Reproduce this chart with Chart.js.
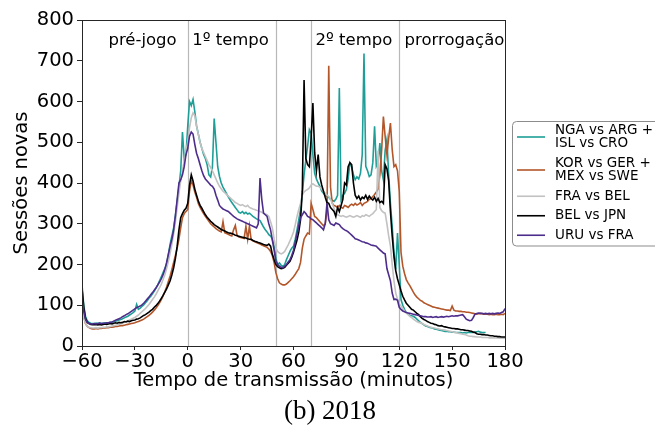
<!DOCTYPE html>
<html><head><meta charset="utf-8">
<script src="https://cdn.jsdelivr.net/npm/chart.js@4.4.1/dist/chart.umd.min.js"></script>
<style>html,body{margin:0;padding:0;background:#fff;}canvas{display:block;}</style>
</head><body>
<canvas id="c" width="655" height="430" style="width:655px;height:430px"></canvas>
<script>
// minutes of broadcast, -60 .. 180 (one sample per minute)
const minutes = Array.from({length: 241}, (_, i) => i - 60);

const seriesLabels = [["NGA vs ARG +", "ISL vs CRO"], ["KOR vs GER +", "MEX vs SWE"], ["FRA vs BEL"], ["BEL vs JPN"], ["URU vs FRA"]];
const seriesColors = ["#1f9e97", "#b3572b", "#c2c2c2", "#000000", "#4d2d8c"];

const ngaIsl = [
150,100,72,62,58,56,55,55,56,55,
56,55,56,57,56,57,58,58,60,61,
62,64,65,67,69,71,73,76,79,82,
86,102,90,93,97,101,106,111,117,122,
128,135,142,150,160,170,180,190,200,225,
250,270,290,320,355,390,430,525,460,470,
540,600,590,605,575,540,520,500,485,470,
460,445,420,415,440,558,500,440,416,400,
390,382,374,366,359,352,346,340,334,328,
326,330,325,328,324,326,322,318,315,312,
310,308,300,292,285,280,273,270,262,245,
215,200,204,198,195,200,212,222,232,240,
245,262,285,310,335,375,420,457,490,531,
522,470,424,410,400,392,380,375,370,367,
365,360,358,355,360,370,633,359,370,375,
384,410,449,440,420,408,415,410,424,470,
718,441,430,416,420,450,539,441,450,498,
430,408,480,506,420,350,294,230,188,277,
200,114,100,90,82,78,75,74,73,70,
66,62,58,55,52,49,48,46,45,44,
42,41,40,39,38,37,36,36,35,35,
34,34,33,33,33,33,32,33,32,33,
34,33,33,34,35,36,34,33,33,33,
null,null,null,null,null,null,null,null,null,null,null];

const korMex = [
105,72,55,48,45,43,42,42,43,42,
43,43,44,44,45,45,46,46,47,48,
48,49,50,50,51,52,53,54,55,56,
57,59,60,62,64,66,69,72,75,79,
83,88,93,99,106,114,123,133,145,158,
172,188,205,222,240,262,290,315,325,330,
335,380,405,395,378,365,350,340,332,325,
318,312,306,300,296,292,288,285,282,280,
305,278,276,274,272,270,285,296,270,268,
266,265,264,294,262,294,260,258,256,254,
252,250,248,246,244,242,238,232,222,205,
180,165,155,152,150,150,152,156,160,165,
170,176,183,190,205,240,262,270,277,275,
350,335,318,315,310,305,300,295,300,330,
688,390,350,345,343,340,345,340,338,345,
343,340,345,348,345,350,346,348,352,345,
350,352,355,360,362,367,372,378,385,420,
480,563,514,470,510,547,482,440,445,430,
380,230,196,178,163,155,148,140,132,125,
120,116,112,110,106,104,102,100,98,96,
95,94,93,92,91,90,89,88,88,87,
98,88,86,86,85,85,84,84,83,83,
82,81,80,79,78,79,80,79,78,78,
78,77,78,77,77,78,77,77,78,77,80];

const fraBel = [
100,70,55,48,46,45,44,44,45,44,
45,45,46,46,47,47,48,49,50,51,
52,53,55,56,58,60,62,64,66,68,
70,73,76,80,84,88,92,97,102,108,
114,120,127,135,143,152,163,175,190,208,
228,250,275,305,340,375,405,430,455,478,
500,535,560,572,565,540,520,500,485,475,
465,455,445,438,430,420,410,400,392,386,
380,376,372,368,364,360,356,352,350,347,
345,347,344,342,345,340,338,336,335,333,
332,330,328,326,324,322,318,305,290,262,
240,232,228,226,228,232,240,248,258,268,
280,298,318,335,350,370,378,382,384,388,
395,398,395,392,392,390,385,380,375,370,
367,360,350,338,326,322,320,318,320,318,
316,318,320,318,316,318,320,318,316,320,
318,322,320,318,322,325,330,335,480,340,
332,328,326,300,270,245,200,160,130,115,
104,98,92,86,81,77,73,70,66,63,
60,58,57,55,53,51,49,47,46,45,
44,43,42,41,40,40,39,38,37,36,
35,34,33,32,31,30,29,28,27,25,
24,24,23,23,22,22,22,21,21,21,
21,20,20,20,20,20,20,19,19,19,19];

const belJpn = [
142,95,68,58,55,53,52,52,53,52,
53,52,53,54,53,54,55,54,56,57,
56,58,57,58,60,59,61,60,62,63,
64,66,67,69,72,75,77,80,83,87,
90,95,99,104,110,117,124,132,140,150,
160,175,192,215,245,285,315,325,333,338,
350,395,420,405,385,370,356,345,338,330,
322,316,311,306,302,298,295,292,289,286,
284,282,280,278,277,276,274,272,271,269,
268,267,266,265,263,262,262,259,257,256,
254,253,251,249,248,247,250,245,225,212,
200,195,192,190,191,193,198,203,208,218,
230,245,260,280,310,380,653,460,445,440,
510,596,475,430,470,415,395,380,365,352,
350,340,335,330,318,340,330,345,360,400,
395,440,450,445,400,370,362,368,358,365,
362,370,360,368,362,358,365,355,362,352,
355,350,445,435,405,330,270,220,185,165,
150,135,122,113,105,100,95,90,88,84,
80,77,72,68,65,63,60,58,56,55,
53,52,50,49,50,48,47,46,45,44,
43,43,42,42,41,40,40,39,38,38,
37,36,34,33,30,29,29,28,28,27,
27,26,25,25,24,24,23,23,22,22,22];

const uruFra = [
120,85,65,58,55,54,54,55,54,55,
56,55,56,56,57,57,58,59,61,63,
65,67,69,72,74,77,79,82,85,88,
91,94,96,98,101,105,110,115,120,126,
131,137,143,150,157,165,175,188,205,225,
245,262,285,320,360,400,408,420,440,470,
485,515,525,520,495,473,460,445,430,418,
410,405,400,395,392,385,370,358,345,340,
336,334,332,330,326,322,318,315,312,310,
308,306,304,302,300,298,296,294,292,290,
300,412,360,326,322,318,300,285,260,235,
208,200,196,193,192,196,200,206,212,222,
235,255,275,295,315,322,330,325,318,316,
312,310,306,302,298,294,290,285,300,351,
310,300,298,296,302,300,298,292,288,285,
283,280,276,272,268,263,262,260,258,256,
255,253,252,250,248,247,246,245,240,236,
232,228,226,190,175,160,130,114,115,112,
95,90,86,84,82,81,80,79,78,77,
76,75,74,73,72,72,71,71,72,70,
71,72,70,71,72,71,72,73,72,73,
74,73,74,74,75,76,77,72,66,64,
62,63,70,78,80,81,80,80,79,80,
79,80,79,80,79,80,81,80,82,84,92];

const seriesValues = [ngaIsl, korMex, fraBel, belJpn, uruFra];

const xTicks = [-60, -30, 0, 30, 60, 90, 120, 150, 180];
const yTicks = [0, 100, 200, 300, 400, 500, 600, 700, 800];
const phaseLines = [0, 50, 70, 120];
const phaseLabels = ["pré-jogo", "1º tempo", "2º tempo", "prorrogação"];
const phaseLabelX = [-45, 2.5, 72.5, 123];
const phaseLabelY = 750;
const xTitle = "Tempo de transmissão (minutos)";
const yTitle = "Sessões novas";
const caption = "(b) 2018";

const FONT = '"DejaVu Sans", sans-serif';

const deco = {
  id: 'deco',
  beforeDatasetsDraw(chart) {
    const {ctx, chartArea: a, scales: {x}} = chart;
    ctx.save();
    ctx.strokeStyle = '#b8b8b8';
    ctx.lineWidth = 1.2;
    phaseLines.forEach(m => {
      const px = Math.round(x.getPixelForValue(m)) + 0.5;
      ctx.beginPath(); ctx.moveTo(px, a.top); ctx.lineTo(px, a.bottom); ctx.stroke();
    });
    ctx.restore();
  },
  afterDatasetsDraw(chart) {
    const {ctx, chartArea: a, scales: {x, y}} = chart;
    ctx.save();
    ctx.strokeStyle = '#262626';
    ctx.lineWidth = 1;
    ctx.strokeRect(Math.round(a.left) + 0.5, Math.round(a.top) + 0.5, Math.round(a.right - a.left), Math.round(a.bottom - a.top));
    ctx.fillStyle = '#000';
    ctx.font = '16.5px ' + FONT;
    ctx.textAlign = 'left';
    ctx.textBaseline = 'middle';
    phaseLabels.forEach((t, i) => ctx.fillText(t, x.getPixelForValue(phaseLabelX[i]), y.getPixelForValue(phaseLabelY)));
    ctx.restore();
  },
  afterDraw(chart) {
    const {ctx} = chart;
    ctx.save();
    // cropped bottom of x title, as in the reference figure
    ctx.fillStyle = '#fff';
    ctx.fillRect(60, 391, 480, 10);
    // caption
    ctx.fillStyle = '#000';
    ctx.font = '27px "Liberation Serif", serif';
    ctx.textAlign = 'center';
    ctx.textBaseline = 'middle';
    ctx.fillText(caption, 330, 412);
    // legend
    const bx = 512.5, by = 121.5, bw = 160, bh = 124.5;
    ctx.beginPath();
    ctx.roundRect(bx, by, bw, bh, 4);
    ctx.fillStyle = '#fff';
    ctx.fill();
    ctx.strokeStyle = '#8c8c8c';
    ctx.lineWidth = 1;
    ctx.stroke();
    ctx.font = '13.5px ' + FONT;
    ctx.textAlign = 'left';
    ctx.textBaseline = 'middle';
    const lh = 13.5;
    let top = 123.5;
    seriesLabels.forEach((lines, i) => {
      const h = lines.length * lh;
      const cy = top + h / 2;
      ctx.strokeStyle = seriesColors[i];
      ctx.lineWidth = 1.6;
      ctx.beginPath(); ctx.moveTo(517, cy); ctx.lineTo(545, cy); ctx.stroke();
      ctx.fillStyle = '#000';
      lines.forEach((t, j) => ctx.fillText(t, 555, top + lh * j + lh / 2));
      top += h + 6;
    });
    ctx.restore();
  }
};

const datasets = seriesValues.map((vals, i) => ({
  label: seriesLabels[i].join(' '),
  data: minutes.map((m, k) => ({x: m, y: vals[k]})),
  borderColor: seriesColors[i],
  backgroundColor: seriesColors[i],
  borderWidth: 1.6,
  pointRadius: 0,
  tension: 0,
  spanGaps: false,
  order: seriesValues.length - 1 - i
}));

const fmt = v => (v < 0 ? '\u2212' + Math.abs(v) : String(v));

new Chart(document.getElementById('c'), {
  type: 'line',
  data: {datasets},
  options: {
    responsive: false,
    animation: false,
    devicePixelRatio: 1,
    layout: {padding: {left: 0, right: 150, top: 20, bottom: 0}},
    plugins: {legend: {display: false}, tooltip: {enabled: false}},
    scales: {
      x: {
        type: 'linear', min: -60, max: 180,
        afterFit(s) { s.height = 84; },
        afterBuildTicks(s) { s.ticks = xTicks.map(v => ({value: v})); },
        ticks: {font: {family: FONT, size: 19.5}, color: '#000', padding: 0, maxRotation: 0, autoSkip: false, callback: v => fmt(v)},
        grid: {drawOnChartArea: false, drawTicks: true, tickLength: 4, color: '#262626'},
        border: {color: '#262626'},
        title: {display: true, text: xTitle, color: '#000', font: {family: FONT, size: 19.5}, padding: {top: 0, bottom: 37}}
      },
      y: {
        min: 0, max: 800,
        afterFit(s) { s.width = 82; },
        afterBuildTicks(s) { s.ticks = yTicks.map(v => ({value: v})); },
        ticks: {font: {family: FONT, size: 19.5}, color: '#000', padding: 3, autoSkip: false, callback: v => fmt(v)},
        grid: {drawOnChartArea: false, drawTicks: true, tickLength: 5, color: '#262626'},
        border: {color: '#262626'},
        title: {display: true, text: yTitle, color: '#000', font: {family: FONT, size: 19.5}, padding: {top: 10, bottom: 0}}
      }
    }
  },
  plugins: [deco]
});
</script>
</body></html>
